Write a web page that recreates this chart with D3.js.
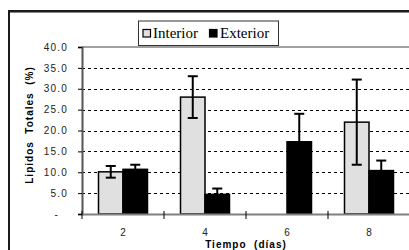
<!DOCTYPE html>
<html><head><meta charset="utf-8">
<script src="https://cdn.jsdelivr.net/npm/d3@7"></script>
<style>
html,body{margin:0;padding:0;background:#fff;}
svg{display:block;}
</style></head>
<body>
<script>
const categories = ["2","4","6","8"];
const seriesNames = ["Interior","Exterior"];
const interiorValues = [10.1, 28.0, 0, 22.0];
const interiorErrors = [1.4, 5.0, 0, 10.2];
const exteriorValues = [10.7, 4.7, 17.3, 10.4];
const exteriorErrors = [1.1, 1.4, 6.7, 2.4];
const yTicks = [0,5,10,15,20,25,30,35,40];
const yLabels = ["-","5.0","10.0","15.0","20.0","25.0","30.0","35.0","40.0"];
const xTitle = "Tiempo  (días)";
const yTitle = "Lipidos  Totales  (%)";

const W = 409, H = 250;
const svg = d3.select("body").append("svg").attr("width", W).attr("height", H);

// outer frame
svg.append("rect").attr("x", 9).attr("y", 11).attr("width", 420).attr("height", 260)
  .attr("fill", "#fff").attr("stroke", "#1a1a1a").attr("stroke-width", 2);
svg.append("line").attr("x1", 10).attr("x2", W).attr("y1", 12.5).attr("y2", 12.5)
  .attr("stroke", "#888").attr("stroke-width", 1);

const plotL = 82, plotR = 410, plotT = 47, plotB = 214;
const x = d3.scaleBand().domain(categories).range([plotL, plotR]).padding(0);
const y = d3.scaleLinear().domain([0, 40]).range([plotB, plotT]);
const groupW = 49;
const xs = d3.scaleBand().domain(seriesNames)
  .range([x.bandwidth()/2 - groupW/2, x.bandwidth()/2 + groupW/2]).padding(0);

// gridlines
const g = svg.append("g");
g.selectAll("line.grid").data(yTicks.filter(t => t > 0 && t < 40)).enter().append("line")
  .attr("class","grid")
  .attr("x1", plotL).attr("x2", plotR)
  .attr("y1", d => Math.round(y(d)) + 0.5).attr("y2", d => Math.round(y(d)) + 0.5)
  .attr("stroke", "#000").attr("stroke-width", 1)
  .attr("stroke-dasharray", "3,3");
// plot top border
g.append("line").attr("x1", plotL).attr("x2", plotR).attr("y1", plotT).attr("y2", plotT)
  .attr("stroke", "#808080").attr("stroke-width", 1.5);

// bars
const data = categories.map((c, i) => ({
  cat: c,
  vals: [
    {s: "Interior", v: interiorValues[i], e: interiorErrors[i]},
    {s: "Exterior", v: exteriorValues[i], e: exteriorErrors[i]}
  ]
}));
const fills = {Interior: "#e0e0e0", Exterior: "#000"};
const groups = svg.append("g").selectAll("g").data(data).enter().append("g")
  .attr("transform", d => `translate(${x(d.cat)},0)`);
groups.selectAll("rect").data(d => d.vals.filter(v => v.v > 0)).enter().append("rect")
  .attr("x", d => xs(d.s)).attr("width", xs.bandwidth())
  .attr("y", d => y(d.v)).attr("height", d => y(0) - y(d.v))
  .attr("fill", d => fills[d.s]).attr("stroke", "#000").attr("stroke-width", 1.5);
// error bars
const eb = groups.selectAll("g.err").data(d => d.vals.filter(v => v.v > 0)).enter().append("g")
  .attr("class","err");
eb.append("line")
  .attr("x1", d => xs(d.s) + xs.bandwidth()/2).attr("x2", d => xs(d.s) + xs.bandwidth()/2)
  .attr("y1", d => y(d.v + d.e)).attr("y2", d => y(d.v - d.e))
  .attr("stroke", "#000").attr("stroke-width", 2);
eb.append("line")
  .attr("x1", d => xs(d.s) + xs.bandwidth()/2 - 5).attr("x2", d => xs(d.s) + xs.bandwidth()/2 + 5)
  .attr("y1", d => y(d.v + d.e)).attr("y2", d => y(d.v + d.e))
  .attr("stroke", "#000").attr("stroke-width", 2);
eb.append("line")
  .attr("x1", d => xs(d.s) + xs.bandwidth()/2 - 5).attr("x2", d => xs(d.s) + xs.bandwidth()/2 + 5)
  .attr("y1", d => y(d.v - d.e)).attr("y2", d => y(d.v - d.e))
  .attr("stroke", "#000").attr("stroke-width", 2);

// y axis
const yAxis = d3.axisLeft(y).tickValues(yTicks).tickSize(4).tickPadding(10)
  .tickFormat((d, i) => yLabels[i]);
const ya = svg.append("g").attr("transform", `translate(${plotL},0)`).call(yAxis);
ya.select(".domain").attr("stroke", "#555").attr("stroke-width", 2);
ya.selectAll(".tick line").attr("stroke", "#000");
ya.selectAll(".tick text").attr("font-family", "Liberation Sans, Arial, sans-serif")
  .attr("font-size", 10).attr("fill", "#222").attr("letter-spacing", "1.2px");
ya.selectAll(".tick text").filter(d => d === 0).attr("x", -23);

// x axis
const xAxis = d3.axisBottom(x).tickSize(0).tickPadding(15);
const xa = svg.append("g").attr("transform", `translate(0,${plotB})`).call(xAxis);
xa.select(".domain").attr("stroke", "#808080").attr("stroke-width", 2);
xa.selectAll(".tick text").attr("font-family", "Liberation Sans, Arial, sans-serif")
  .attr("font-size", 10).attr("fill", "#222");
// category boundary ticks
const bounds = categories.map(c => x(c)).concat([plotR]);
svg.append("g").selectAll("line").data(bounds).enter().append("line")
  .attr("x1", d => d).attr("x2", d => d).attr("y1", plotB - 3).attr("y2", plotB + 5)
  .attr("stroke", "#000").attr("stroke-width", 1);

// axis titles
svg.append("text").attr("x", 246).attr("y", 248).attr("text-anchor", "middle")
  .style("white-space", "pre")
  .attr("font-family", "Liberation Sans, Arial, sans-serif").attr("font-size", 10)
  .attr("font-weight", "bold").attr("letter-spacing", "1px").text(xTitle);
svg.append("text").attr("transform", "translate(33,125) rotate(-90)").attr("text-anchor", "middle")
  .style("white-space", "pre")
  .attr("font-family", "Liberation Sans, Arial, sans-serif").attr("font-size", 10)
  .attr("font-weight", "bold").attr("letter-spacing", "1px").text(yTitle);

// legend
const lg = svg.append("g");
lg.append("rect").attr("x", 138.5).attr("y", 21).attr("width", 140).attr("height", 24.5)
  .attr("fill", "#fff").attr("stroke", "#333").attr("stroke-width", 1);
const legItems = [{s: "Interior", sx: 143, tx: 153}, {s: "Exterior", sx: 209.5, tx: 220}];
legItems.forEach(it => {
  lg.append("rect").attr("x", it.sx).attr("y", 29.5).attr("width", 7.5).attr("height", 7.5)
    .attr("fill", fills[it.s]).attr("stroke", "#000").attr("stroke-width", 1.2);
  lg.append("text").attr("x", it.tx).attr("y", 37.5)
    .attr("font-family", "Liberation Serif, Times New Roman, serif").attr("font-size", 15)
    .attr("fill", "#000").text(it.s);
});
</script>
</body></html>
